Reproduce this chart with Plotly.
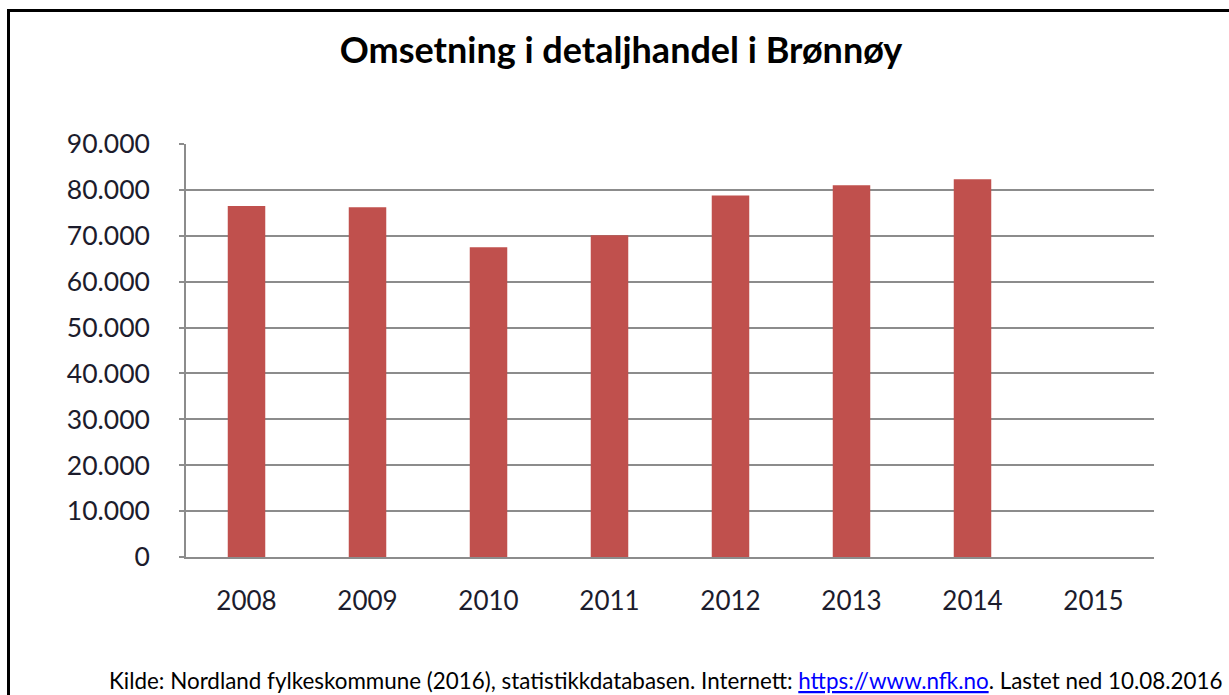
import plotly.graph_objects as go

years = ["2008", "2009", "2010", "2011", "2012", "2013", "2014", "2015"]
omsetning = [76500, 76200, 67500, 70100, 78800, 81000, 82300, None]
y_ticks = [0, 10000, 20000, 30000, 40000, 50000, 60000, 70000, 80000, 90000]

title_text = "Omsetning i detaljhandel i Brønnøy"
source_text = ("Kilde: Nordland fylkeskommune (2016), statistikkdatabasen. Internett: "
               "<a href='https://www.nfk.no' style='color:#0000FF'><u>https://www.nfk.no</u></a>"
               ". Lastet ned 10.08.2016")

W, H = 1229, 695
L, R, T, B = 186, 1154, 144, 557
pw, ph = R - L, B - T

def px(x):
    return (x - L) / pw

def py(y):
    return (B - y) / ph

FONT = "Lato"
TXT = "#1c1c2c"

fig = go.Figure()
fig.add_trace(go.Bar(
    x=years, y=omsetning,
    marker=dict(color="#C0504D", line=dict(width=0)),
))

fig.update_layout(
    width=W, height=H,
    margin=dict(l=L, r=W - R, t=T, b=H - B, pad=0),
    paper_bgcolor="white", plot_bgcolor="white",
    bargap=0.69,
    showlegend=False,
    separators=",.",
    font=dict(family=FONT, color=TXT),
    title=dict(text="<b>" + title_text + "</b>", x=621 / W, xref="container", xanchor="center",
               y=1 - 50 / H, yref="container", yanchor="middle",
               font=dict(family=FONT, size=36, color="#000000")),
)

fig.update_yaxes(
    range=[0, 90000], tickvals=y_ticks, tickformat=",d",
    showgrid=True, gridcolor="#8c8c8c", gridwidth=1.5,
    showline=True, linecolor="#8c8c8c", linewidth=1.5,
    ticks="outside", ticklen=5, tickcolor="#8c8c8c", tickwidth=1.5,
    ticklabelstandoff=24,
    tickfont=dict(family=FONT, size=26.5, color=TXT),
    zeroline=False, fixedrange=True,
)
fig.update_xaxes(
    showline=True, linecolor="#8c8c8c", linewidth=1.5,
    ticks="", ticklabelstandoff=20,
    tickfont=dict(family=FONT, size=26, color=TXT),
    fixedrange=True,
)

fig.add_shape(type="rect", xref="paper", yref="paper",
              x0=px(8.5), x1=px(1245), y0=py(10.5), y1=py(712),
              line=dict(color="black", width=3), fillcolor="rgba(0,0,0,0)")

fig.add_annotation(text=source_text, xref="paper", yref="paper",
                   x=px(1225), y=py(680), xanchor="right", yanchor="middle",
                   showarrow=False, font=dict(family=FONT, size=22.4, color="#000000"))

fig.write_html("out.html", config={"displayModeBar": False},
               post_script="document.body.style.margin='0px';document.body.style.overflow='hidden';")
